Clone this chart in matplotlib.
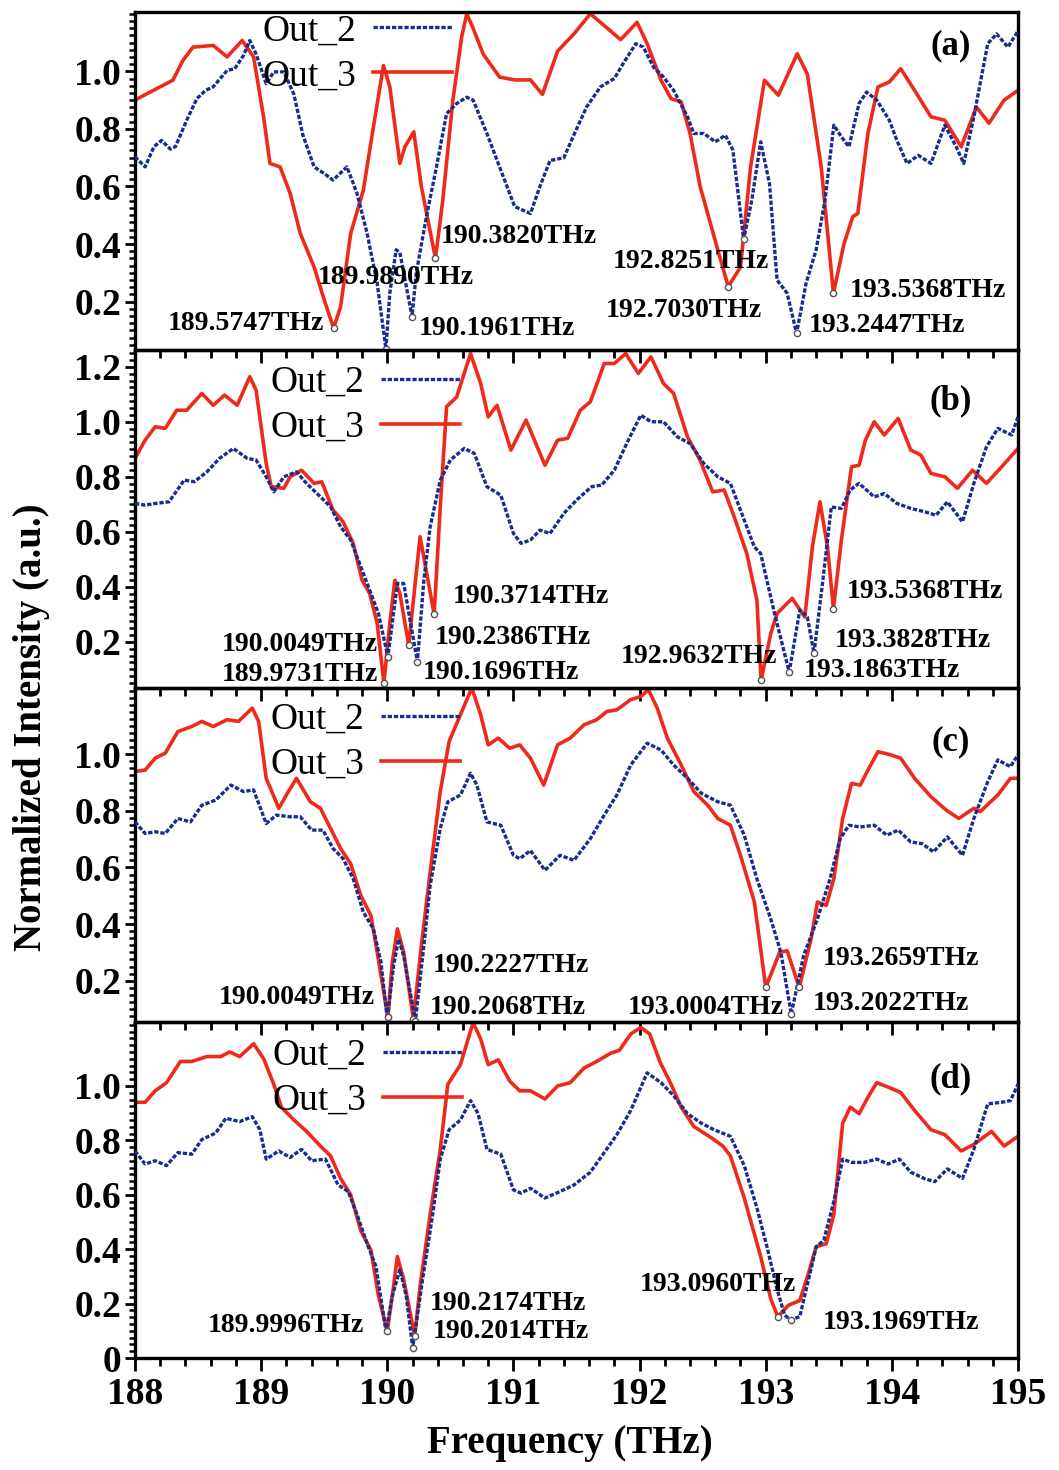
import numpy as np
import matplotlib
matplotlib.use("Agg")
import matplotlib.pyplot as plt
from matplotlib.ticker import MultipleLocator, FixedLocator

plt.rcParams['font.family'] = ['Liberation Serif', 'DejaVu Serif']
plt.rcParams['font.weight'] = 'bold'

# ---------------- spectra (frequency in THz, normalized intensity) ----------------
# panel (a)
freq_a_out3 = [188.00, 188.12, 188.30, 188.38, 188.46, 188.62, 188.73, 188.85, 188.94, 189.02,
               189.07, 189.15, 189.23, 189.31, 189.42, 189.50, 189.5747, 189.63, 189.71, 189.81,
               189.89, 189.97, 190.02, 190.10, 190.14, 190.21, 190.27, 190.382, 190.44, 190.52,
               190.59, 190.63, 190.68, 190.76, 190.89, 191.01, 191.135, 191.23, 191.35, 191.48,
               191.61, 191.85, 191.98, 192.06, 192.17, 192.25, 192.33, 192.40, 192.48, 192.62,
               192.703, 192.80, 192.88, 192.99, 193.10, 193.25, 193.33, 193.44, 193.5368, 193.62,
               193.69, 193.73, 193.81, 193.89, 193.98, 194.07, 194.18, 194.31, 194.42, 194.55,
               194.67, 194.77, 194.89, 195.00]
int_a_out3 = [0.900, 0.928, 0.969, 1.038, 1.084, 1.090, 1.050, 1.107, 1.050, 0.840,
              0.680, 0.668, 0.576, 0.437, 0.320, 0.206, 0.108, 0.183, 0.437, 0.587,
              0.807, 1.020, 0.946, 0.680, 0.738, 0.790, 0.600, 0.350, 0.553, 0.900,
              1.120, 1.200, 1.150, 1.060, 0.980, 0.970, 0.970, 0.920, 1.070, 1.130,
              1.200, 1.110, 1.170, 1.096, 0.969, 0.905, 0.894, 0.784, 0.600, 0.380,
              0.252, 0.320, 0.668, 0.969, 0.917, 1.061, 0.990, 0.668, 0.229, 0.400,
              0.495, 0.506, 0.784, 0.946, 0.963, 1.009, 0.934, 0.842, 0.830, 0.738,
              0.876, 0.820, 0.900, 0.934]

freq_a_out2 = [188.00, 188.08, 188.15, 188.21, 188.28, 188.32, 188.41, 188.49, 188.56, 188.62,
               188.73, 188.79, 188.86, 188.91, 188.96, 189.04, 189.10, 189.18, 189.26, 189.33,
               189.42, 189.50, 189.57, 189.68, 189.76, 189.84, 189.92, 189.989, 190.02, 190.07,
               190.10, 190.1961, 190.23, 190.31, 190.39, 190.47, 190.55, 190.63, 190.68, 190.79,
               190.89, 191.01, 191.135, 191.21, 191.29, 191.40, 191.48, 191.58, 191.69, 191.80,
               191.87, 191.97, 192.03, 192.11, 192.19, 192.27, 192.38, 192.43, 192.51, 192.60,
               192.68, 192.74, 192.8251, 192.89, 192.96, 193.03, 193.09, 193.17, 193.2447, 193.32,
               193.40, 193.47, 193.54, 193.60, 193.66, 193.74, 193.80, 193.88, 193.98, 194.04,
               194.12, 194.21, 194.31, 194.42, 194.51, 194.57, 194.65, 194.76, 194.83, 194.92,
               195.00]
int_a_out2 = [0.703, 0.668, 0.738, 0.760, 0.730, 0.738, 0.830, 0.905, 0.934, 0.946,
              1.003, 1.009, 1.055, 1.107, 1.060, 0.957, 0.998, 0.998, 0.920, 0.780,
              0.668, 0.645, 0.622, 0.668, 0.576, 0.437, 0.264, 0.035, 0.230, 0.380,
              0.370, 0.148, 0.300, 0.495, 0.668, 0.853, 0.888, 0.910, 0.900, 0.784,
              0.668, 0.530, 0.506, 0.600, 0.690, 0.700, 0.780, 0.876, 0.946, 0.975,
              1.027, 1.096, 1.084, 1.015, 0.980, 0.934, 0.842, 0.784, 0.784, 0.755,
              0.778, 0.726, 0.416, 0.553, 0.755, 0.610, 0.275, 0.229, 0.090, 0.264,
              0.380, 0.553, 0.813, 0.772, 0.738, 0.888, 0.928, 0.900, 0.830, 0.760,
              0.680, 0.708, 0.680, 0.813, 0.738, 0.680, 0.842, 1.096, 1.130, 1.084,
              1.140]

# panel (b)
freq_b_out3 = [188.00, 188.08, 188.16, 188.24, 188.33, 188.41, 188.53, 188.62, 188.71, 188.81,
               188.91, 188.96, 189.04, 189.08, 189.18, 189.23, 189.32, 189.42, 189.48, 189.57,
               189.65, 189.73, 189.80, 189.86, 189.92, 189.9731, 190.02, 190.06, 190.10, 190.1696,
               190.26, 190.3714, 190.42, 190.47, 190.55, 190.66, 190.74, 190.80, 190.87, 190.98,
               191.10, 191.25, 191.35, 191.43, 191.53, 191.61, 191.72, 191.80, 191.89, 191.99,
               192.09, 192.19, 192.27, 192.38, 192.48, 192.58, 192.67, 192.75, 192.85, 192.93,
               192.9632, 193.04, 193.09, 193.21, 193.31, 193.37, 193.43, 193.49, 193.5368, 193.60,
               193.68, 193.74, 193.79, 193.86, 193.94, 194.05, 194.15, 194.23, 194.31, 194.42,
               194.52, 194.64, 194.75, 194.87, 195.00]
int_b_out3 = [0.867, 0.933, 0.982, 0.976, 1.042, 1.042, 1.103, 1.060, 1.097, 1.060,
              1.164, 1.115, 0.848, 0.764, 0.758, 0.800, 0.824, 0.776, 0.782, 0.679,
              0.636, 0.558, 0.424, 0.376, 0.267, 0.050, 0.267, 0.424, 0.376, 0.188,
              0.582, 0.300, 0.690, 1.055, 1.090, 1.248, 1.140, 1.018, 1.060, 0.897,
              1.006, 0.842, 0.933, 0.940, 1.042, 1.073, 1.212, 1.212, 1.248, 1.176,
              1.236, 1.139, 1.103, 0.945, 0.860, 0.745, 0.752, 0.655, 0.521, 0.352,
              0.060, 0.230, 0.303, 0.358, 0.290, 0.545, 0.709, 0.545, 0.320, 0.570,
              0.836, 0.842, 0.933, 1.000, 0.952, 1.012, 0.897, 0.879, 0.812, 0.800,
              0.758, 0.824, 0.776, 0.836, 0.903]

freq_b_out2 = [188.00, 188.08, 188.16, 188.27, 188.39, 188.47, 188.57, 188.67, 188.78, 188.89,
               188.96, 189.04, 189.10, 189.18, 189.28, 189.36, 189.47, 189.55, 189.63, 189.71,
               189.79, 189.86, 189.93, 190.0049, 190.08, 190.13, 190.2386, 190.29, 190.34, 190.42,
               190.50, 190.61, 190.69, 190.79, 190.90, 191.00, 191.06, 191.135, 191.21, 191.29,
               191.40, 191.50, 191.62, 191.70, 191.80, 191.91, 192.01, 192.09, 192.19, 192.30,
               192.40, 192.51, 192.62, 192.72, 192.80, 192.91, 192.96, 193.07, 193.1863, 193.27,
               193.33, 193.3828, 193.45, 193.52, 193.60, 193.67, 193.74, 193.86, 193.94, 194.04,
               194.15, 194.26, 194.35, 194.44, 194.56, 194.65, 194.75, 194.84, 194.95, 195.00]
int_b_out2 = [0.703, 0.697, 0.703, 0.709, 0.788, 0.782, 0.818, 0.867, 0.903, 0.867,
              0.861, 0.800, 0.745, 0.800, 0.818, 0.776, 0.727, 0.691, 0.618, 0.570,
              0.473, 0.388, 0.303, 0.145, 0.412, 0.412, 0.127, 0.424, 0.618, 0.788,
              0.861, 0.903, 0.885, 0.764, 0.733, 0.594, 0.558, 0.570, 0.606, 0.594,
              0.667, 0.715, 0.764, 0.770, 0.824, 0.933, 1.024, 1.000, 1.000, 0.945,
              0.921, 0.848, 0.800, 0.776, 0.679, 0.545, 0.521, 0.303, 0.090, 0.315,
              0.290, 0.158, 0.412, 0.690, 0.685, 0.752, 0.776, 0.727, 0.739, 0.703,
              0.685, 0.673, 0.660, 0.709, 0.636, 0.776, 0.909, 0.976, 0.952, 1.018]

# panel (c)
freq_c_out3 = [188.00, 188.08, 188.16, 188.24, 188.34, 188.45, 188.53, 188.62, 188.73, 188.82,
               188.93, 188.98, 189.04, 189.14, 189.20, 189.28, 189.39, 189.47, 189.55, 189.63,
               189.71, 189.79, 189.87, 189.92, 190.0049, 190.04, 190.08, 190.13, 190.2068, 190.27,
               190.34, 190.42, 190.49, 190.58, 190.67, 190.74, 190.80, 190.88, 190.97, 191.05,
               191.135, 191.24, 191.35, 191.45, 191.56, 191.66, 191.74, 191.82, 191.93, 192.01,
               192.07, 192.14, 192.22, 192.33, 192.43, 192.54, 192.62, 192.72, 192.80, 192.91,
               193.0004, 193.11, 193.17, 193.2659, 193.36, 193.41, 193.48, 193.54, 193.61, 193.68,
               193.75, 193.81, 193.89, 193.99, 194.07, 194.18, 194.31, 194.43, 194.53, 194.65,
               194.70, 194.84, 194.94, 195.00]
int_c_out3 = [0.939, 0.944, 0.986, 1.004, 1.080, 1.098, 1.116, 1.098, 1.122, 1.116,
              1.163, 1.116, 0.915, 0.809, 0.856, 0.915, 0.832, 0.809, 0.738, 0.667,
              0.613, 0.501, 0.430, 0.300, 0.070, 0.265, 0.383, 0.300, 0.064, 0.324,
              0.584, 0.868, 1.045, 1.140, 1.234, 1.140, 1.033, 1.057, 1.021, 1.033,
              0.986, 0.891, 1.033, 1.057, 1.104, 1.122, 1.151, 1.157, 1.193, 1.204,
              1.228, 1.163, 1.057, 0.962, 0.868, 0.820, 0.773, 0.749, 0.643, 0.478,
              0.176, 0.300, 0.306, 0.176, 0.348, 0.478, 0.466, 0.560, 0.773, 0.897,
              0.891, 0.944, 1.009, 0.998, 0.986, 0.915, 0.850, 0.803, 0.773, 0.809,
              0.797, 0.856, 0.915, 0.915]

freq_c_out2 = [188.00, 188.08, 188.16, 188.24, 188.34, 188.44, 188.53, 188.64, 188.76, 188.86,
               188.94, 189.04, 189.12, 189.23, 189.31, 189.40, 189.49, 189.57, 189.65, 189.73,
               189.81, 189.89, 189.95, 190.00, 190.05, 190.09, 190.13, 190.2227, 190.29, 190.34,
               190.42, 190.48, 190.58, 190.66, 190.71, 190.79, 190.90, 191.00, 191.05, 191.135,
               191.25, 191.37, 191.48, 191.61, 191.72, 191.82, 191.93, 192.06, 192.17, 192.27,
               192.38, 192.49, 192.62, 192.72, 192.83, 192.93, 193.04, 193.12, 193.2022, 193.30,
               193.41, 193.51, 193.59, 193.66, 193.75, 193.86, 193.96, 194.05, 194.15, 194.24,
               194.33, 194.44, 194.56, 194.65, 194.76, 194.84, 194.94, 195.00]
int_c_out2 = [0.761, 0.720, 0.726, 0.720, 0.773, 0.761, 0.820, 0.838, 0.891, 0.868,
              0.874, 0.755, 0.785, 0.779, 0.779, 0.732, 0.732, 0.667, 0.631, 0.560,
              0.442, 0.383, 0.265, 0.064, 0.253, 0.347, 0.288, 0.058, 0.324, 0.537,
              0.738, 0.832, 0.856, 0.933, 0.891, 0.761, 0.749, 0.643, 0.631, 0.660,
              0.590, 0.643, 0.625, 0.702, 0.785, 0.856, 0.962, 1.039, 1.015, 0.962,
              0.915, 0.862, 0.832, 0.820, 0.714, 0.560, 0.418, 0.300, 0.082, 0.288,
              0.418, 0.560, 0.702, 0.749, 0.743, 0.749, 0.714, 0.732, 0.690, 0.684,
              0.655, 0.708, 0.643, 0.773, 0.903, 0.980, 0.956, 0.998]

# panel (d)
freq_d_out3 = [188.00, 188.08, 188.16, 188.25, 188.36, 188.45, 188.57, 188.68, 188.75, 188.83,
               188.94, 189.02, 189.10, 189.16, 189.26, 189.36, 189.47, 189.55, 189.63, 189.71,
               189.79, 189.87, 189.93, 189.9996, 190.04, 190.08, 190.13, 190.2174, 190.26, 190.34,
               190.42, 190.48, 190.58, 190.68, 190.74, 190.80, 190.88, 190.97, 191.05, 191.135,
               191.25, 191.35, 191.45, 191.56, 191.66, 191.77, 191.84, 191.93, 192.01, 192.08,
               192.16, 192.25, 192.33, 192.43, 192.57, 192.66, 192.72, 192.83, 192.96, 193.04,
               193.096, 193.18, 193.27, 193.34, 193.40, 193.48, 193.54, 193.61, 193.67, 193.74,
               193.81, 193.88, 193.98, 194.07, 194.18, 194.31, 194.42, 194.55, 194.65, 194.79,
               194.89, 195.00]
int_d_out3 = [0.940, 0.940, 0.982, 1.012, 1.090, 1.090, 1.108, 1.108, 1.125, 1.108,
              1.155, 1.100, 1.006, 0.922, 0.875, 0.833, 0.779, 0.743, 0.660, 0.600,
              0.468, 0.397, 0.229, 0.098, 0.229, 0.373, 0.289, 0.080, 0.265, 0.528,
              0.767, 1.006, 1.078, 1.233, 1.173, 1.078, 1.096, 1.018, 0.982, 0.982,
              0.952, 1.000, 1.012, 1.066, 1.090, 1.120, 1.131, 1.191, 1.215, 1.191,
              1.090, 1.006, 0.922, 0.851, 0.809, 0.779, 0.743, 0.588, 0.373, 0.217,
              0.152, 0.194, 0.211, 0.313, 0.409, 0.420, 0.528, 0.863, 0.922, 0.898,
              0.958, 1.012, 0.994, 0.976, 0.910, 0.839, 0.821, 0.761, 0.785, 0.833,
              0.779, 0.815]

freq_d_out2 = [188.00, 188.08, 188.16, 188.25, 188.34, 188.45, 188.53, 188.64, 188.72, 188.83,
               188.93, 188.99, 189.04, 189.14, 189.23, 189.32, 189.40, 189.51, 189.61, 189.69,
               189.76, 189.84, 189.91, 189.99, 190.04, 190.10, 190.15, 190.2014, 190.28, 190.36,
               190.42, 190.49, 190.58, 190.66, 190.72, 190.79, 190.90, 191.00, 191.06, 191.135,
               191.25, 191.37, 191.48, 191.61, 191.72, 191.82, 191.93, 192.06, 192.17, 192.27,
               192.38, 192.49, 192.59, 192.72, 192.83, 192.93, 193.01, 193.09, 193.15, 193.1969,
               193.27, 193.34, 193.40, 193.46, 193.54, 193.61, 193.68, 193.78, 193.88, 193.97,
               194.06, 194.15, 194.26, 194.34, 194.44, 194.56, 194.65, 194.76, 194.87, 194.94,
               195.00]
int_d_out2 = [0.761, 0.713, 0.725, 0.707, 0.755, 0.749, 0.803, 0.827, 0.881, 0.869,
              0.887, 0.839, 0.731, 0.761, 0.737, 0.767, 0.725, 0.731, 0.636, 0.612,
              0.528, 0.420, 0.337, 0.098, 0.229, 0.325, 0.229, 0.038, 0.289, 0.528,
              0.731, 0.839, 0.875, 0.946, 0.898, 0.767, 0.749, 0.618, 0.606, 0.624,
              0.588, 0.612, 0.636, 0.683, 0.755, 0.821, 0.910, 1.048, 1.012, 0.964,
              0.898, 0.863, 0.839, 0.815, 0.707, 0.552, 0.409, 0.253, 0.158, 0.140,
              0.152, 0.289, 0.409, 0.432, 0.576, 0.731, 0.719, 0.719, 0.731, 0.713,
              0.731, 0.683, 0.659, 0.648, 0.695, 0.660, 0.767, 0.934, 0.940, 0.946,
              1.006]

# ---------------- marked resonance dips: frequency and which output ----------------
dips_a_freq = [189.5747, 189.9890, 190.1961, 190.3820, 192.7030, 192.8251, 193.2447, 193.5368]
dips_a_out = ['3', '2', '2', '3', '3', '2', '2', '3']
dips_b_freq = [190.0049, 189.9731, 190.1696, 190.2386, 190.3714, 192.9632, 193.1863, 193.3828, 193.5368]
dips_b_out = ['2', '3', '3', '2', '3', '3', '2', '2', '3']
dips_c_freq = [190.0049, 190.2068, 190.2227, 193.0004, 193.2022, 193.2659]
dips_c_out = ['3', '3', '2', '3', '2', '3']
dips_d_freq = [189.9996, 190.2014, 190.2174, 193.0960, 193.1969]
dips_d_out = ['3', '2', '3', '3', '2']

series_labels = ['Out_2', 'Out_3']
panel_tags = ['(a)', '(b)', '(c)', '(d)']

# ---------------- layout ----------------
# label anchor (left edge frequency, vertical centre) for each dip annotation
label_pos = {
    'a': [(188.26, 0.125), (189.45, 0.285), (190.25, 0.108), (190.42, 0.427),
          (191.73, 0.170), (191.79, 0.340), (193.34, 0.118), (193.67, 0.240)],
    'b': [(188.69, 0.190), (188.69, 0.080), (190.28, 0.090), (190.38, 0.215),
          (190.52, 0.366), (191.85, 0.145), (193.30, 0.095), (193.55, 0.205),
          (193.64, 0.383)],
    'c': [(188.66, 0.142), (190.34, 0.106), (190.36, 0.255), (191.91, 0.106),
          (193.37, 0.120), (193.45, 0.277)],
    'd': [(188.58, 0.120), (190.36, 0.097), (190.34, 0.200), (192.00, 0.270),
          (193.45, 0.130)],
}
panel_px = [(12, 350), (350, 688), (688, 1022), (1022, 1358)]
ylims = [(0.032, 1.206), (0.032, 1.261), (0.054, 1.234), (0.0, 1.235)]
yticks = [[0.2, 0.4, 0.6, 0.8, 1.0],
          [0.2, 0.4, 0.6, 0.8, 1.0, 1.2],
          [0.2, 0.4, 0.6, 0.8, 1.0],
          [0.0, 0.2, 0.4, 0.6, 0.8, 1.0]]
legend_anchor = [(0.144, 0.995), (0.153, 0.955), (0.153, 0.957), (0.156, 0.952)]
tag_pos = [(0.924, 0.90), (0.924, 0.85), (0.924, 0.84), (0.924, 0.83)]

BLUE = '#1a2d8f'
RED = '#ee2a1b'

W, H = 1059, 1470
fig = plt.figure(figsize=(W / 100, H / 100), dpi=100)
L, R = 135 / W, 1018 / W

panels = [
    (freq_a_out2, int_a_out2, freq_a_out3, int_a_out3, dips_a_freq, dips_a_out, 'a'),
    (freq_b_out2, int_b_out2, freq_b_out3, int_b_out3, dips_b_freq, dips_b_out, 'b'),
    (freq_c_out2, int_c_out2, freq_c_out3, int_c_out3, dips_c_freq, dips_c_out, 'c'),
    (freq_d_out2, int_d_out2, freq_d_out3, int_d_out3, dips_d_freq, dips_d_out, 'd'),
]

for i, (f2, v2, f3, v3, dfreq, dout, key) in enumerate(panels):
    top, bot = panel_px[i]
    ax = fig.add_axes([L, 1 - bot / H, R - L, (bot - top) / H])
    ax.patch.set_visible(False)

    l2, = ax.plot(f2, v2, color=BLUE, lw=2.4, linestyle=(0, (1.3, 0.55)),
                  dash_capstyle='butt', dash_joinstyle='round', zorder=3)
    l3, = ax.plot(f3, v3, color=RED, lw=2.6, solid_joinstyle='round', zorder=2)

    curves = {'2': (np.array(f2), np.array(v2)), '3': (np.array(f3), np.array(v3))}
    for (fq, o), (tx, ty) in zip(zip(dfreq, dout), label_pos[key]):
        cx, cy = curves[o]
        val = np.interp(fq, cx, cy)
        ax.plot([fq], [val], 'o', ms=4.5, mfc='white', mec='#555555', mew=1.0, zorder=6)
        ax.text(tx, ty, f'{fq:.4f}THz', fontsize=20, fontweight='bold',
                ha='left', va='center', zorder=5)

    ax.set_xlim(188, 195)
    ax.set_ylim(*ylims[i])
    ax.xaxis.set_major_locator(MultipleLocator(1))
    ax.xaxis.set_minor_locator(MultipleLocator(0.2))
    ax.yaxis.set_major_locator(FixedLocator(yticks[i]))
    ax.yaxis.set_minor_locator(MultipleLocator(0.025))
    ax.set_yticklabels(['0' if t == 0 else f'{t:.1f}' for t in yticks[i]])

    ax.tick_params(axis='x', which='both', direction='out', bottom=True, top=False,
                   labelbottom=(i == 3), labelsize=27, pad=5)
    ax.tick_params(axis='x', which='major', length=9, width=2.0)
    ax.tick_params(axis='x', which='minor', length=5.5, width=2.0)
    ax.tick_params(axis='y', which='both', direction='out', left=True, right=False,
                   labelsize=27, pad=3)
    ax.tick_params(axis='y', which='major', length=7, width=2.0)
    ax.tick_params(axis='y', which='minor', length=4, width=1.8)
    for sp in ax.spines.values():
        sp.set_linewidth(2.4)

    ax.legend([l2, l3], series_labels, loc='upper left', bbox_to_anchor=legend_anchor[i],
              frameon=False, markerfirst=False, handlelength=2.1, handletextpad=0.45,
              labelspacing=0.28, borderpad=0, borderaxespad=0,
              prop={'family': 'Liberation Serif', 'weight': 'normal', 'size': 27})

    ax.text(tag_pos[i][0], tag_pos[i][1], panel_tags[i], transform=ax.transAxes,
            fontsize=25, fontweight='bold', ha='center', va='center')

fig.text(570 / W, 1 - 1443 / H, 'Frequency (THz)', ha='center', va='center',
         fontsize=28, fontweight='bold')
fig.text(32 / W, 1 - 727 / H, 'Normalized Intensity (a.u.)', rotation=90,
         ha='center', va='center', fontsize=28, fontweight='bold')

fig.savefig('out.png', dpi=100, facecolor='white')
